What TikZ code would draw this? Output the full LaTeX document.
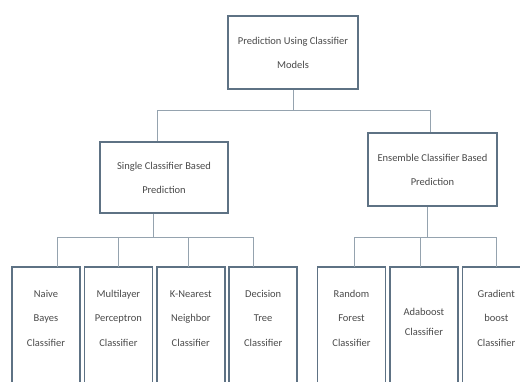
\documentclass[tikz,border=0pt]{standalone}
\usepackage{fontspec}
\setmainfont{Carlito}
\usetikzlibrary{positioning}
\definecolor{boxedge}{HTML}{5E7284}
\definecolor{wirecol}{HTML}{95A3AF}
\definecolor{boxtext}{HTML}{4A4A4A}
\tikzset{x=1pt,y=-1pt}
\tikzset{box/.style={draw=boxedge,line width=1.6pt,fill=white,text=boxtext,align=center,font=\fontsize{10.5}{24}\selectfont,inner sep=0pt}}
\tikzset{leaf/.style={text=boxtext,align=center,font=\fontsize{10.5}{24.5}\selectfont,inner sep=0pt,minimum width=67.5pt,minimum height=102pt,anchor=north}}
\tikzset{frame/.style={draw=boxedge,line width=1.6pt}}
\tikzset{wire/.style={draw=wirecol,line width=0.9pt}}

\begin{document}
\begin{tikzpicture}
    \useasboundingbox (0,0) rectangle (520,382);
    \clip (0,0) rectangle (520,382);
    \node[box,minimum width=130pt,minimum height=73pt] (root) at (293,52.5) {Prediction Using Classifier\\Models};
    \node[box,minimum width=128pt,minimum height=71pt] (single) at (164,177.5) {Single Classifier Based\\Prediction};
    \node[box,minimum width=129pt,minimum height=73pt] (ensemble) at (432.5,169.5) {Ensemble Classifier Based\\Prediction};
    % single classifier models
    \node[leaf] (nb) at (46,267) {Naive\\Bayes\\Classifier};
    \node[leaf,right=4.5pt of nb] (mlp) {Multilayer\\Perceptron\\Classifier};
    \node[leaf,right=4.5pt of mlp] (knn) {K-Nearest\\Neighbor\\Classifier};
    \node[leaf,right=4.5pt of knn] (dt) {Decision\\Tree\\Classifier};
    % ensemble models
    \node[leaf] (rf) at (351.5,267) {Random\\Forest\\Classifier};
    \node[leaf,right=4.5pt of rf,font=\fontsize{10.5}{20}\selectfont,yshift=-4pt] (ada) {Adaboost\\Classifier};
    \node[leaf,right=4.5pt of ada,yshift=4pt] (gb) {Gradient\\boost\\Classifier};
    \foreach \n in {nb,mlp,knn,dt,rf}
        \draw[frame] (\n.north west) rectangle ([yshift=-40pt]\n.south east);
    \draw[frame] ([yshift=4pt]ada.north west) rectangle ([yshift=-40pt]ada.south east);
    \draw[frame] (gb.north west) rectangle ([yshift=-40pt]gb.south east);
    \coordinate (topbus) at (293,110);
    \coordinate (leftbus) at (153,237);
    \coordinate (rightbus) at (427,237);
    \draw[wire] (root.south) -- (topbus);
    \draw[wire] ([xshift=-7pt]single.north) |- (topbus);
    \draw[wire] ([xshift=-2.5pt]ensemble.north) |- (topbus);
    \draw[wire] ([xshift=-11pt]single.south) -- (leftbus);
    \draw[wire] ([xshift=11pt]nb.north) |- (leftbus);
    \draw[wire] (mlp.north) |- (leftbus);
    \draw[wire] ([xshift=-2pt]knn.north) |- (leftbus);
    \draw[wire] ([xshift=-10pt]dt.north) |- (leftbus);
    \draw[wire] ([xshift=-5.5pt]ensemble.south) -- (rightbus);
    \draw[wire] ([xshift=2.5pt]rf.north) |- (rightbus);
    \draw[wire] ([xshift=-3.5pt,yshift=4pt]ada.north) |- (rightbus);
    \draw[wire] (gb.north) |- (rightbus);
\end{tikzpicture}
\end{document}
